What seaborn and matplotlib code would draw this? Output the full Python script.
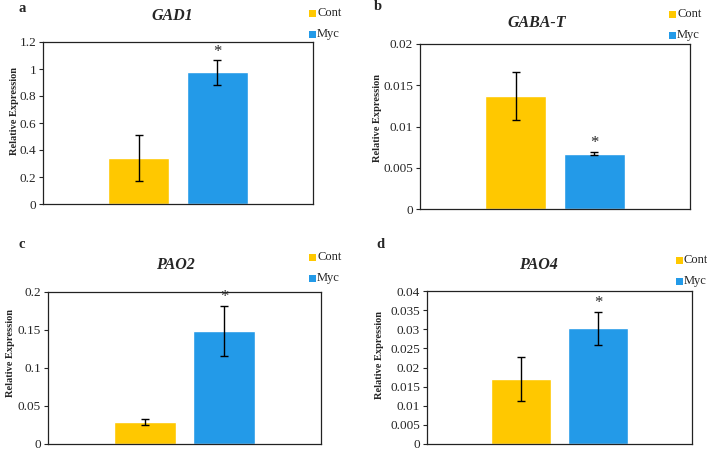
import matplotlib
matplotlib.use("Agg")
import matplotlib.pyplot as plt
from matplotlib.patches import Rectangle
import seaborn as sns
import pandas as pd

sns.set_style("white")
plt.rcParams['font.family'] = ['Liberation Serif', 'DejaVu Serif']

groups = ["Cont", "Myc"]
colors = ["#FFC800", "#239AE8"]

genes = ["GAD1", "GABA-T", "PAO2", "PAO4"]
letters = ["a", "b", "c", "d"]
means = {
    "GAD1": [0.34, 0.975],
    "GABA-T": [0.0137, 0.0067],
    "PAO2": [0.029, 0.149],
    "PAO4": [0.0170, 0.0302],
}
errors = {
    "GAD1": [0.17, 0.09],
    "GABA-T": [0.0029, 0.0002],
    "PAO2": [0.004, 0.033],
    "PAO4": [0.0057, 0.0044],
}
yticks = {
    "GAD1": [0, 0.2, 0.4, 0.6, 0.8, 1, 1.2],
    "GABA-T": [0, 0.005, 0.01, 0.015, 0.02],
    "PAO2": [0, 0.05, 0.1, 0.15, 0.2],
    "PAO4": [0, 0.005, 0.01, 0.015, 0.02, 0.025, 0.03, 0.035, 0.04],
}
ytick_labels = {
    "GAD1": ["0", "0.2", "0.4", "0.6", "0.8", "1", "1.2"],
    "GABA-T": ["0", "0.005", "0.01", "0.015", "0.02"],
    "PAO2": ["0", "0.05", "0.1", "0.15", "0.2"],
    "PAO4": ["0", "0.005", "0.01", "0.015", "0.02", "0.025", "0.03", "0.035", "0.04"],
}
star_on = {"GAD1": "Myc", "GABA-T": "Myc", "PAO2": "Myc", "PAO4": "Myc"}

W, H = 707, 450
# layout in pixels
boxes = {  # left, top, right, bottom of plot area
    "GAD1": (43, 42, 313, 204),
    "GABA-T": (420, 44, 690, 209),
    "PAO2": (48, 292, 321, 444),
    "PAO4": (427, 291, 692, 444),
}
title_pos = {"GAD1": (172, 16), "GABA-T": (537, 23), "PAO2": (175, 265), "PAO4": (538, 265)}
letter_pos = {"GAD1": (22, 8), "GABA-T": (378, 7), "PAO2": (22, 245), "PAO4": (380, 245)}
legend_pos = {"GAD1": (309, 13), "GABA-T": (669, 14), "PAO2": (309, 257), "PAO4": (676, 260)}
ylabel_pos = {"GAD1": (14, 111), "GABA-T": (377, 118), "PAO2": (10, 353), "PAO4": (379, 355)}

fig = plt.figure(figsize=(W / 100, H / 100), dpi=100)

def fx(px):
    return px / W

def fy(py):
    return 1 - py / H

for gene, letter in zip(genes, letters):
    l, t, r, b = boxes[gene]
    ax = fig.add_axes([fx(l), fy(b), (r - l) / W, (b - t) / H])
    df = pd.DataFrame({"gene": [gene, gene], "group": groups, "value": means[gene]})
    sns.barplot(data=df, x="gene", y="value", hue="group", hue_order=groups,
                palette=colors, errorbar=None, width=0.8, gap=0.22,
                ax=ax, legend=False, saturation=1)
    ymax = yticks[gene][-1]
    for p, m, e, g in zip(list(ax.patches), means[gene], errors[gene], groups):
        cx = p.get_x() + p.get_width() / 2
        ax.errorbar(cx, m, yerr=e, color="black", capsize=2.6, elinewidth=1,
                    capthick=1, zorder=5)
        if star_on[gene] == g:
            ax.text(cx, m + e + ymax * 0.004, "*", ha="center", va="bottom",
                    fontsize=12)
    ax.set_xlim(-0.69, 0.69)
    ax.set_ylim(0, ymax)
    ax.set_yticks(yticks[gene])
    ax.set_yticklabels(ytick_labels[gene], fontsize=9.5)
    ax.set_xticks([])
    ax.set_xlabel("")
    ax.set_ylabel("Relative Expression", fontsize=7.5, fontweight="bold")
    lx, ly = ylabel_pos[gene]
    ax.yaxis.set_label_coords((lx + 5 - l) / (r - l), (b - ly) / (b - t))
    ax.tick_params(axis="y", direction="out", length=3, width=0.8, left=True, pad=2)
    for s in ax.spines.values():
        s.set_visible(True)
        s.set_color("#222222")
        s.set_linewidth(0.9)
    tx, ty = title_pos[gene]
    fig.text(fx(tx), fy(ty), gene, fontsize=11.5, fontweight="bold",
             fontstyle="italic", ha="center", va="center")
    px, py = letter_pos[gene]
    fig.text(fx(px), fy(py), letter, fontsize=10.5, fontweight="bold",
             ha="center", va="center")
    mx, my = legend_pos[gene]
    for i, (g, c) in enumerate(zip(groups, colors)):
        yc = my + 21 * i
        fig.patches.append(Rectangle((fx(mx), fy(yc + 3.5)), 7 / W, 7 / H,
                                     transform=fig.transFigure, facecolor=c,
                                     edgecolor="none"))
        fig.text(fx(mx + 8), fy(yc), g, fontsize=9, ha="left", va="center")

fig.savefig("out.png", dpi=100)
